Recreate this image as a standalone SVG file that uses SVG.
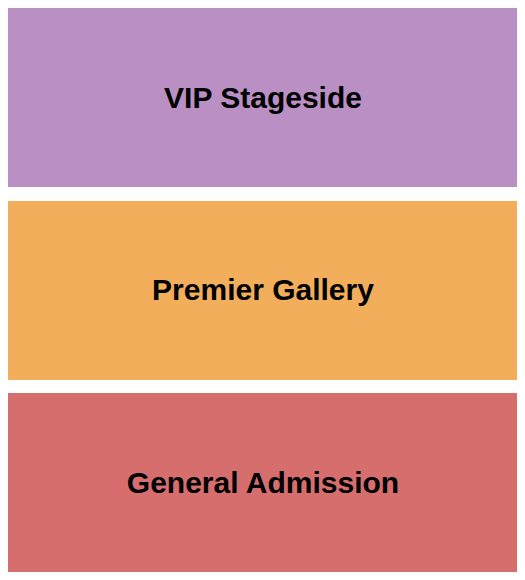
<svg xmlns="http://www.w3.org/2000/svg" width="525" height="580" viewBox="0 0 525 580">
<style>
text{font-family:"Liberation Sans",Arial,sans-serif;font-weight:bold;font-size:30px;fill:#000;text-anchor:middle}
</style>
<rect width="525" height="580" fill="#fff"/>
<g id="vip-stageside">
<rect x="8" y="8" width="509" height="179" fill="#BA8FC3"/>
<text x="263" y="108">VIP Stageside</text>
</g>
<g id="premier-gallery">
<rect x="8" y="201" width="509" height="179" fill="#F2AE5A"/>
<text x="263" y="300">Premier Gallery</text>
</g>
<g id="general-admission">
<rect x="8" y="393" width="509" height="179" fill="#D76E6E"/>
<text x="263" y="493">General Admission</text>
</g>
<g id="connectors"/>
</svg>
